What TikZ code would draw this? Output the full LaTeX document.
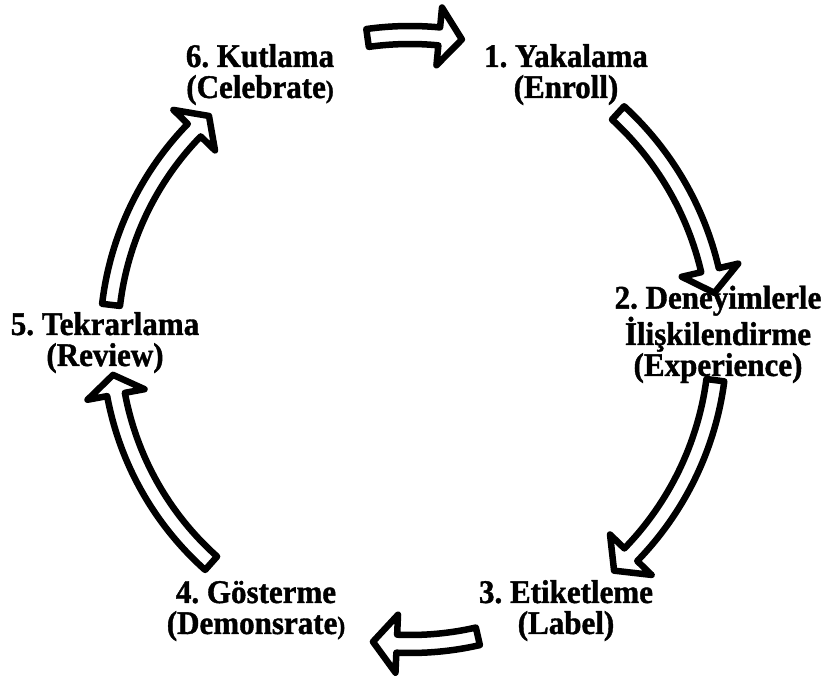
\documentclass[tikz,border=0pt]{standalone}
\usepackage{fontspec}
\setmainfont{Liberation Serif}[FakeStretch=0.94, BoldFeatures={FakeBold=1.2}]
\frenchspacing
\newcommand{\cyclearrow}[4]{% radius, start angle, head-base angle, tip angle
  \pgfmathsetmacro{\ro}{#1+9}\pgfmathsetmacro{\ri}{#1-9}%
  \pgfmathsetmacro{\ho}{#1+29}\pgfmathsetmacro{\hi}{#1-29}%
  \draw[barrow,shift={(C)}] (#2:\ro) arc[start angle=#2, end angle=#3, radius=\ro]
    -- (#3:\ho) -- (#4:#1) -- (#3:\hi) -- (#3:\ri)
    arc[start angle=#3, end angle=#2, radius=\ri] -- cycle;}
\begin{document}
\begin{tikzpicture}[x=1pt,y=1pt,
  lbl/.style={font=\fontsize{33}{31}\selectfont\bfseries, align=center, anchor=base, inner sep=0pt},
  barrow/.style={draw=black, fill=white, line width=6.5pt, line join=round}]
\useasboundingbox (0,0) rectangle (829,679);
\coordinate (C) at (410,339);
% labels (anchor = baseline of last line)
\node[lbl] (n1) at (566,581) {1. Yakalama\\(Enroll)};
\node[lbl] (n2) at (718,303) {2. Deneyimlerle\\İlişkilendirme\\(Experience)};
\node[lbl] (n3) at (566,45) {3. Etiketleme\\(Label)};
\node[lbl] (n4) at (256,45) {4. Gösterme\\(Demonsrate{\fontsize{25}{31}\selectfont)}};
\node[lbl] (n5) at (105,313) {5. Tekrarlama\\(Review)};
\node[lbl] (n6) at (260,581) {6. Kutlama\\(Celebrate{\fontsize{25}{31}\selectfont)}};
% block arrows
\cyclearrow{305}{98}{84.5}{80.2}
\cyclearrow{308}{47.5}{13.1}{8.8}
\cyclearrow{308}{-7.5}{-44.2}{-48.5}
\cyclearrow{304}{-77.1}{-92.5}{-97}
\cyclearrow{299}{-131.7}{-169.5}{-173.3}
\cyclearrow{301}{173.3}{135.8}{131.9}
\end{tikzpicture}
\end{document}
